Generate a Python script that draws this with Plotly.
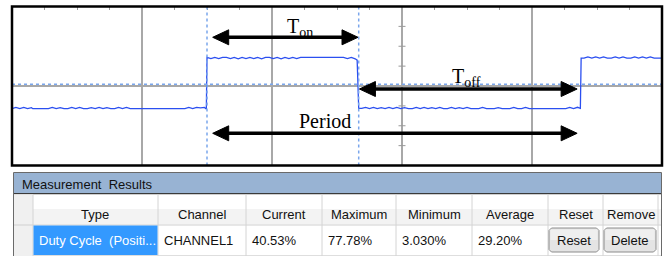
import plotly.graph_objects as go

# ---------------- data ----------------
# oscilloscope trace: time (divisions) and level (divisions)
t_div = [
    0.00, 0.03, 0.06, 0.09, 0.12, 0.15, 0.16,
    0.28, 0.31, 0.34, 0.37, 0.40, 0.43, 0.46, 0.49, 0.52, 0.55, 0.58,
    0.61, 0.64, 0.67, 0.70, 0.73, 0.76, 0.79, 0.82, 0.85, 0.88, 0.91,
    1.33, 1.36, 1.39, 1.42, 1.45, 1.48, 1.495,
    1.500,
    1.53, 1.56, 1.59, 1.62, 1.65, 1.68, 1.71, 1.74, 1.77, 1.80, 1.83, 1.86,
    1.89, 1.92, 1.95, 1.98, 2.01, 2.04, 2.07, 2.10, 2.13, 2.16, 2.19, 2.22,
    2.55, 2.58, 2.61, 2.64, 2.655,
    2.667,
    2.69, 2.72, 2.75, 2.78, 2.81, 2.84, 2.87, 2.90, 2.93, 2.96,
    2.99, 3.02, 3.05, 3.08, 3.11, 3.14, 3.17, 3.20, 3.23, 3.26,
    3.29, 3.32, 3.35, 3.38, 3.41, 3.44, 3.47, 3.50, 3.53, 3.56,
    3.59, 3.62, 3.65, 3.68, 3.71, 3.74, 3.77, 3.80, 3.83, 3.86,
    3.89, 3.92, 3.95, 3.98,
    4.26, 4.29, 4.32, 4.35, 4.372,
    4.378,
    4.40, 4.43, 4.46, 4.49, 4.52, 4.55, 4.58, 4.61, 4.64, 4.67, 4.70,
    4.73, 4.76, 4.79, 4.82, 4.85, 4.88, 4.91, 4.94, 4.97, 5.00,
]
v_div = [
    -1.14, -1.08, -1.14, -1.08, -1.14, -1.09, -1.14,
    -1.14, -1.08, -1.14, -1.09, -1.14, -1.14, -1.08, -1.14, -1.08, -1.14, -1.14,
    -1.09, -1.14, -1.08, -1.14, -1.09, -1.14, -1.14, -1.08, -1.14, -1.08, -1.14,
    -1.14, -1.08, -1.14, -1.08, -1.10, -1.08, -1.16,
    1.44,
    1.38, 1.44, 1.38, 1.44, 1.44, 1.38, 1.44, 1.37, 1.44, 1.38, 1.44, 1.38,
    1.44, 1.37, 1.44, 1.44, 1.38, 1.44, 1.37, 1.44, 1.38, 1.44, 1.38, 1.44,
    1.44, 1.38, 1.44, 1.37, 1.30,
    -1.13,
    -1.13, -1.08, -1.14, -1.08, -1.14, -1.09, -1.14, -1.08, -1.14, -1.08,
    -1.14, -1.09, -1.14, -1.14, -1.08, -1.14, -1.08, -1.14, -1.09, -1.14,
    -1.08, -1.14, -1.14, -1.08, -1.14, -1.09, -1.14, -1.08, -1.14, -1.14,
    -1.14, -1.08, -1.14, -1.14, -1.14, -1.09, -1.14, -1.14, -1.14, -1.08,
    -1.14, -1.14, -1.08, -1.14,
    -1.14, -1.08, -1.14, -1.07, -1.12,
    1.40,
    1.40, 1.46, 1.40, 1.46, 1.40, 1.46, 1.40, 1.40, 1.46, 1.40, 1.46,
    1.40, 1.40, 1.46, 1.40, 1.46, 1.40, 1.46, 1.40, 1.40, 1.40,
]
assert len(t_div) == len(v_div)

edge_times = [1.500, 2.667, 4.378]      # rising, falling, rising edge (div)
cursor_level = 0.09                      # horizontal cursor (div)
graticule_ticks_y = [-3, -2, -1, 1, 2, 3]
graticule_tick_x = 3.0
arrow_labels = ["T<sub>on</sub>", "T<sub>off</sub>", "Period"]

table_title = "Measurement\u00a0 Results"
column_headers = ["Type", "Channel", "Current", "Maximum", "Minimum",
                  "Average", "Reset", "Remove"]
row_values = ["Duty Cycle\u00a0 (Positi...", "CHANNEL1", "40.53%", "77.78%",
              "3.030%", "29.20%", "Reset", "Delete"]

# ---------------- layout helpers ----------------
W, H = 665, 256


def P(x):
    return x / W


def Q(y):
    return 1 - y / H


PL, PR, PT, PB = 12, 662, 6.5, 165.5
XR, YR = [0, 5], [-4, 4]
xs = (PR - PL) / (XR[1] - XR[0])
ys = (PB - PT) / (YR[1] - YR[0])


def ypx(py):
    return YR[1] - (py - PT) / ys


def xpx(px):
    return XR[0] + (px - PL) / xs


fig = go.Figure()
fig.add_trace(go.Scatter(x=t_div, y=v_div, mode="lines",
                         line=dict(color="#2b4ff0", width=1.3),
                         hoverinfo="skip", showlegend=False))
fig.add_trace(go.Scatter(x=[graticule_tick_x] * len(graticule_ticks_y),
                         y=graticule_ticks_y, mode="markers",
                         marker=dict(symbol="line-ew", size=5,
                                     line=dict(color="#9a9a9a", width=1)),
                         hoverinfo="skip", showlegend=False))

shapes = []
annotations = []

# cursors
for te in edge_times[:2]:
    shapes.append(dict(type="line", xref="x", yref="paper", x0=te, x1=te,
                       y0=Q(PB), y1=Q(PT), layer="above",
                       line=dict(color="#7aa6ec", width=1.5, dash="dot")))
shapes.append(dict(type="line", xref="paper", yref="y", x0=P(PL), x1=P(PR),
                   y0=cursor_level, y1=cursor_level, layer="above",
                   line=dict(color="#7aa6ec", width=1.5, dash="dot")))

# arrows
rise1, fall, rise2 = edge_times
arrows = [
    (rise1 + 5.7 / xs, fall - 0.7 / xs, ypx(37.3)),
    (fall + 0.7 / xs, rise2 - 4.0 / xs, ypx(89.0)),
    (rise1 + 5.7 / xs, rise2 - 4.0 / xs, ypx(133.3)),
]
hl, hh = 16 / xs, 7.5 / ys
for xa, xb, ya in arrows:
    shapes.append(dict(type="line", xref="x", yref="y", x0=xa + hl * 0.8,
                       x1=xb - hl * 0.8, y0=ya, y1=ya,
                       line=dict(color="black", width=3.5)))
    for tip, d in ((xa, -1), (xb, 1)):
        path = (f"M {tip},{ya} L {tip - d * hl},{ya + hh} "
                f"L {tip - d * hl},{ya - hh} Z")
        shapes.append(dict(type="path", xref="x", yref="y", path=path,
                           fillcolor="black", line=dict(color="black", width=1)))

label_pos = [(285, 27, "left"), (450, 77, "left"), (325, 121, "center")]
for (px, py, anc), txt in zip(label_pos, arrow_labels):
    annotations.append(dict(x=xpx(px), y=ypx(py), xref="x", yref="y",
                            text=txt, showarrow=False, xanchor=anc,
                            yanchor="middle",
                            font=dict(family="Liberation Serif", size=20,
                                      color="black")))

# frame
shapes.append(dict(type="rect", xref="paper", yref="paper",
                   x0=P(PL), x1=P(PR), y0=Q(PB), y1=Q(PT),
                   line=dict(color="black", width=2.5)))

# ---------------- table ----------------
TF = "Liberation Sans"
shapes.append(dict(type="rect", xref="paper", yref="paper",
                   x0=P(13.5), x1=P(661.5), y0=Q(262), y1=Q(172.5),
                   fillcolor="white", line=dict(color="#6a6a6a", width=1)))
shapes.append(dict(type="rect", xref="paper", yref="paper",
                   x0=P(14), x1=P(661), y0=Q(193), y1=Q(173),
                   fillcolor="#98b3d3", line=dict(width=0)))
shapes.append(dict(type="line", xref="paper", yref="paper",
                   x0=P(14), x1=P(661), y0=Q(193.8), y1=Q(193.8),
                   line=dict(color="#3a3a3a", width=1.5)))
annotations.append(dict(x=P(20), y=Q(184), xref="paper", yref="paper",
                        text=table_title, showarrow=False, xanchor="left",
                        yanchor="middle", font=dict(family=TF, size=13,
                                                    color="#111111")))

col_edges = [33, 158, 246, 322, 396, 472, 548, 603, 658]
HR0, HR1, DR0, DR1 = 194.5, 224.5, 225.5, 255.5

# header row background
shapes.append(dict(type="rect", xref="paper", yref="paper",
                   x0=P(14), x1=P(661), y0=Q(209), y1=Q(HR0),
                   fillcolor="#ffffff", line=dict(width=0)))
shapes.append(dict(type="rect", xref="paper", yref="paper",
                   x0=P(14), x1=P(661), y0=Q(HR1), y1=Q(209),
                   fillcolor="#f3f3f3", line=dict(width=0)))
# row-header column
shapes.append(dict(type="rect", xref="paper", yref="paper",
                   x0=P(14), x1=P(33), y0=Q(DR1 + 3), y1=Q(HR0),
                   fillcolor="#f0f0f0", line=dict(width=0)))
# horizontal lines
shapes.append(dict(type="line", xref="paper", yref="paper",
                   x0=P(14), x1=P(661), y0=Q(HR1 + 0.5), y1=Q(HR1 + 0.5),
                   line=dict(color="#d0d0d0", width=1)))
shapes.append(dict(type="line", xref="paper", yref="paper",
                   x0=P(33), x1=P(661), y0=Q(DR1 + 0.3), y1=Q(DR1 + 0.3),
                   line=dict(color="#d0d0d0", width=1)))
# vertical separators
for xe in col_edges:
    shapes.append(dict(type="line", xref="paper", yref="paper",
                       x0=P(xe), x1=P(xe), y0=Q(DR1 + 3), y1=Q(HR0),
                       line=dict(color="#d4d4d4", width=1)))

# selected cell
shapes.append(dict(type="rect", xref="paper", yref="paper",
                   x0=P(33.5), x1=P(157.5), y0=Q(255), y1=Q(DR0),
                   fillcolor="#3399ff", line=dict(width=0)))

HY, DY = 214, 240.5
for i, hdr in enumerate(column_headers):
    xc = (col_edges[i] + col_edges[i + 1]) / 2
    annotations.append(dict(x=P(xc), y=Q(HY), xref="paper", yref="paper",
                            text=hdr, showarrow=False, xanchor="center",
                            yanchor="middle",
                            font=dict(family=TF, size=13, color="#111111")))


def button_path(x0, y0, x1, y1, r=2.5):
    pts = [(x0 + r, y0), (x1 - r, y0), (x1, y0 + r), (x1, y1 - r),
           (x1 - r, y1), (x0 + r, y1), (x0, y1 - r), (x0, y0 + r)]
    s = "M " + " L ".join(f"{P(a)},{Q(b)}" for a, b in pts) + " Z"
    return s


buttons = {6: (549, 599), 7: (604, 656)}
for i, val in enumerate(row_values):
    if i in buttons:
        bx0, bx1 = buttons[i]
        shapes.append(dict(type="path", xref="paper", yref="paper",
                           path=button_path(bx0, 228, bx1, 252),
                           fillcolor="#e4e4e4",
                           line=dict(color="#8c8c8c", width=1)))
        shapes.append(dict(type="rect", xref="paper", yref="paper",
                           x0=P(bx0 + 1.5), x1=P(bx1 - 1.5),
                           y0=Q(240), y1=Q(229.5),
                           fillcolor="#efefef", line=dict(width=0)))
        annotations.append(dict(x=P((bx0 + bx1) / 2), y=Q(DY), xref="paper",
                                yref="paper", text=val, showarrow=False,
                                xanchor="center", yanchor="middle",
                                font=dict(family=TF, size=13, color="#111111")))
    else:
        color = "white" if i == 0 else "#111111"
        annotations.append(dict(x=P(col_edges[i] + 4), y=Q(DY), xref="paper",
                                yref="paper", text=val, showarrow=False,
                                xanchor="left", yanchor="middle",
                                font=dict(family=TF, size=13, color=color)))

fig.update_layout(
    width=W, height=H, margin=dict(l=0, r=0, t=0, b=0),
    paper_bgcolor="white", plot_bgcolor="white",
    shapes=shapes, annotations=annotations, showlegend=False,
    xaxis=dict(range=XR, domain=[P(PL), P(PR)], showgrid=True, tick0=0,
               dtick=1, gridcolor="#a8a8a8", gridwidth=1.5, zeroline=False,
               showline=False, showticklabels=False, ticks="", side="top",
               minor=dict(dtick=0.25, tick0=0, ticks="inside", ticklen=3,
                          tickcolor="#9a9a9a", showgrid=False),
               fixedrange=True),
    yaxis=dict(range=YR, domain=[Q(PB), Q(PT)], showgrid=True, tick0=0,
               dtick=4, gridcolor="#a8a8a8", gridwidth=1.5, zeroline=False,
               showline=False, showticklabels=False, ticks="",
               fixedrange=True),
)
fig.write_html(
    "out.html",
    config={"displayModeBar": False},
    post_script="document.body.style.margin='0';"
                "document.body.style.overflow='hidden';",
)
